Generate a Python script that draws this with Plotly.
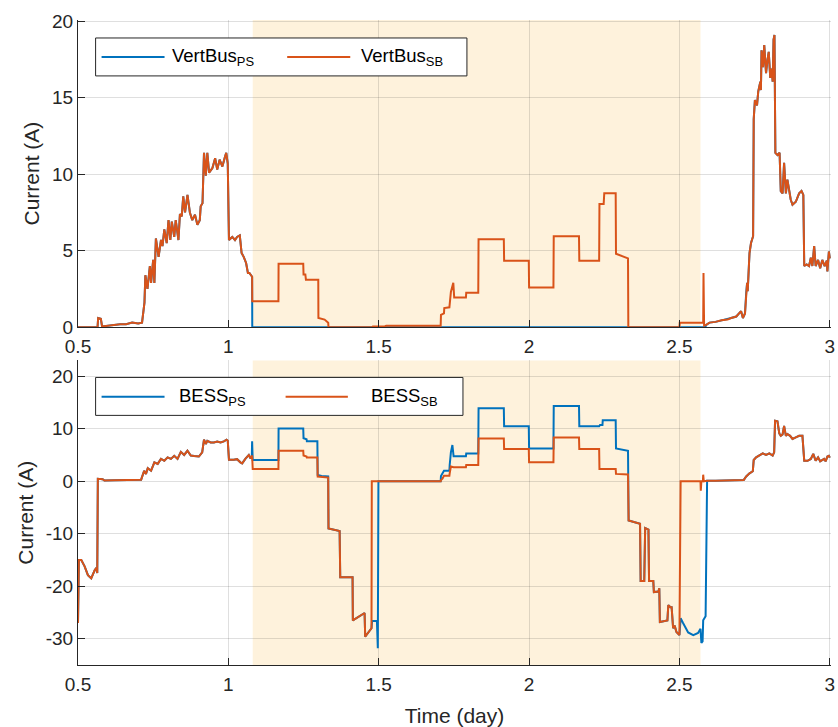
import plotly.graph_objects as go

# ---------------- data (time in days, current in A) ----------------
# Vertical bus current: common part before the outage window
vb_pre_t = [0.5, 0.565, 0.567, 0.576, 0.58, 0.60, 0.62, 0.64, 0.66, 0.68, 0.70, 0.713,
            0.721, 0.724, 0.731, 0.739, 0.743, 0.750, 0.754, 0.759, 0.768, 0.776, 0.781,
            0.787, 0.795, 0.801, 0.807, 0.812, 0.820, 0.825, 0.834, 0.839, 0.845, 0.850,
            0.856, 0.864, 0.872, 0.880, 0.889, 0.897, 0.905, 0.908, 0.914, 0.919, 0.925,
            0.930, 0.936, 0.947, 0.956, 0.963, 0.971, 0.980, 0.989, 0.993, 0.998, 1.002,
            1.013, 1.022, 1.029, 1.038, 1.044, 1.051, 1.059, 1.065, 1.070, 1.077, 1.079]
vb_pre_i = [0.0, 0.0, 0.6, 0.55, 0.05, 0.1, 0.15, 0.2, 0.2, 0.3, 0.25, 0.3,
            1.6, 3.4, 2.5, 4.0, 2.9, 4.4, 2.9, 5.8, 4.6, 5.7, 5.3,
            6.4, 5.5, 7.0, 5.7, 6.9, 5.9, 7.0, 5.7, 7.4, 7.25, 8.55,
            7.5, 8.65, 7.5, 7.0, 7.35, 6.7, 7.0, 7.9, 8.1, 11.4, 9.9,
            11.4, 10.1, 10.4, 11.05, 10.3, 10.95, 10.5, 11.15, 11.4, 10.7, 5.7,
            5.9, 5.7, 5.9, 6.0, 4.85, 4.6, 4.2, 3.55, 3.55, 3.35, 3.3]

# PS configuration: bus disconnected during the window
vb_ps_mid_t = [1.0795, 2.586]
vb_ps_mid_i = [0.0, 0.0]

# SB configuration during the window
vb_sb_mid_t = [1.0795, 1.1665, 1.167, 1.249, 1.25, 1.256, 1.258, 1.299, 1.2995, 1.32, 1.332,
               1.333, 1.48, 1.481, 1.52, 1.525, 1.706, 1.707, 1.717, 1.718, 1.735, 1.74,
               1.748, 1.751, 1.79, 1.791, 1.831, 1.832, 1.916, 1.917, 1.999, 2.0, 2.081,
               2.082, 2.166, 2.167, 2.233, 2.234, 2.248, 2.25, 2.288, 2.289, 2.329, 2.33,
               2.5, 2.501, 2.579, 2.58, 2.582, 2.586]
vb_sb_mid_i = [1.7, 1.7, 4.15, 4.15, 3.45, 3.45, 3.1, 3.1, 0.6, 0.5, 0.3,
               0.0, 0.0, 0.05, 0.05, 0.1, 0.1, 0.8, 0.9, 1.25, 1.3, 2.3,
               2.9, 1.95, 1.95, 2.25, 2.25, 5.75, 5.75, 4.35, 4.35, 2.6, 2.6,
               5.95, 5.95, 4.35, 4.35, 8.05, 8.05, 8.75, 8.75, 4.8, 4.5, 0.0,
               0.0, 0.3, 0.3, 3.55, 0.1, 0.12]

# Vertical bus current: common part after the window
vb_post_t = [2.589, 2.60, 2.62, 2.64, 2.66, 2.672, 2.689, 2.705, 2.711, 2.718, 2.722, 2.725,
             2.727, 2.733, 2.738, 2.745, 2.747, 2.751, 2.758, 2.762, 2.769, 2.771, 2.773,
             2.778, 2.782, 2.788, 2.793, 2.797, 2.802, 2.807, 2.81, 2.813, 2.816, 2.819,
             2.826, 2.833, 2.837, 2.843, 2.848, 2.854, 2.859, 2.865, 2.87, 2.876, 2.887,
             2.898, 2.906, 2.912, 2.915, 2.923, 2.931, 2.937, 2.942, 2.948, 2.953, 2.961,
             2.968, 2.975, 2.983, 2.99, 2.992, 2.997, 3.0]
vb_post_i = [0.15, 0.3, 0.35, 0.45, 0.5, 0.6, 0.7, 1.05, 0.6, 0.9, 2.25, 2.9,
             2.35, 4.85, 5.5, 5.95, 13.6, 14.85, 14.5, 15.4, 16.05, 15.5, 18.1,
             17.0, 18.45, 16.6, 17.5, 18.0, 16.3, 16.9, 16.05, 18.8, 19.1, 11.4,
             11.25, 11.4, 8.9, 8.75, 10.75, 8.75, 9.65, 8.75, 8.35, 8.0, 8.2,
             8.75, 8.9, 8.65, 4.0, 4.1, 4.0, 4.55, 4.0, 5.3, 4.0, 4.4,
             3.85, 4.4, 4.0, 4.35, 3.65, 4.95, 4.5]

# BESS current: common part before the window
bess_pre_t = [0.5, 0.503, 0.511, 0.522, 0.533, 0.544, 0.555, 0.561, 0.564, 0.566, 0.582, 0.588,
              0.62, 0.66, 0.70, 0.71, 0.72, 0.726, 0.732, 0.743, 0.754, 0.765, 0.776,
              0.787, 0.798, 0.809, 0.82, 0.831, 0.842, 0.853, 0.864, 0.875, 0.886, 0.902,
              0.913, 0.919, 0.925, 0.93, 0.941, 0.952, 0.963, 0.974, 0.985, 0.994, 0.998,
              1.002, 1.018, 1.029, 1.04, 1.046, 1.057, 1.068, 1.074, 1.078]
bess_pre_i = [-27.0, -15.0, -15.0, -16.2, -17.9, -18.5, -17.0, -16.5, -17.5, 0.45, 0.4, 0.15,
              0.2, 0.25, 0.25, 0.3, 2.0, 1.4, 2.5, 2.0, 3.6, 3.3, 4.25,
              3.9, 4.55, 4.25, 4.85, 4.25, 5.6, 5.0, 5.8, 4.9, 4.8, 4.7,
              5.5, 7.9, 7.1, 7.7, 7.4, 7.4, 7.55, 7.4, 7.6, 7.9, 7.7,
              4.1, 4.1, 4.2, 3.6, 3.4, 4.3, 5.0, 4.3, 4.9]

# PS configuration, first charge/discharge steps
bess_ps_a_t = [1.079, 1.081, 1.1665, 1.167, 1.249, 1.25, 1.26, 1.261, 1.296, 1.297, 1.31, 1.332]
bess_ps_a_i = [7.6, 4.05, 4.05, 10.05, 10.05, 8.2, 8.0, 7.6, 7.6, 1.2, 1.0, 0.9]
# SB configuration, first charge/discharge steps
bess_sb_a_t = [1.079, 1.081, 1.1665, 1.167, 1.249, 1.25, 1.26, 1.261, 1.296, 1.297, 1.332]
bess_sb_a_i = [4.9, 2.35, 2.35, 5.8, 5.8, 4.9, 4.7, 4.5, 4.5, 0.9, 0.7]

# common night discharge
bess_dis1_t = [1.333, 1.37, 1.372, 1.413, 1.414, 1.453, 1.455, 1.476]
bess_dis1_i = [-9.0, -9.5, -18.3, -18.3, -26.5, -25.1, -29.6, -28.0]

# PS configuration, second day inside the window
bess_ps_b_t = [1.478, 1.494, 1.497, 1.499, 1.706, 1.707, 1.717, 1.735, 1.736, 1.74, 1.745, 1.749,
               1.79, 1.791, 1.831, 1.832, 1.916, 1.917, 1.999, 2.0, 2.081, 2.082, 2.166,
               2.167, 2.233, 2.236, 2.244, 2.245, 2.288, 2.289, 2.329]
bess_ps_b_i = [-26.6, -26.6, -31.8, 0.0, 0.0, 1.0, 2.0, 2.0, 3.1, 5.5, 6.9, 4.75,
               4.75, 5.3, 5.3, 13.9, 13.9, 10.45, 10.45, 6.25, 6.25, 14.35, 14.35,
               10.45, 10.45, 10.7, 10.7, 11.6, 11.6, 6.25, 5.8]
# SB configuration, second day inside the window
bess_sb_b_t = [1.477, 1.706, 1.707, 1.712, 1.717, 1.735, 1.736, 1.74, 1.749, 1.79, 1.791, 1.831,
               1.832, 1.916, 1.917, 1.999, 2.0, 2.081, 2.082, 2.166, 2.167, 2.233, 2.234,
               2.288, 2.289, 2.329]
bess_sb_b_i = [0.0, 0.0, 0.2, 0.5, 1.05, 1.05, 1.5, 2.8, 2.65, 2.65, 3.1, 3.1,
               8.15, 8.15, 6.15, 6.15, 3.6, 3.6, 8.35, 8.35, 6.15, 6.15, 2.35,
               2.35, 1.4, 1.3]

# common second night discharge
bess_dis2_t = [2.331, 2.369, 2.371, 2.383, 2.386, 2.397, 2.399, 2.413, 2.415, 2.43, 2.433,
               2.435, 2.46, 2.463, 2.47, 2.474, 2.479, 2.484, 2.49, 2.50]
bess_dis2_i = [-7.47, -8.1, -19.0, -19.0, -8.9, -9.2, -19.0, -19.0, -21.1, -21.0, -20.4,
               -26.8, -26.5, -23.6, -24.0, -24.0, -28.0, -27.5, -28.7, -29.3]

bess_ps_c_t = [2.504, 2.512, 2.529, 2.546, 2.562, 2.57, 2.573, 2.577, 2.579, 2.587, 2.592]
bess_ps_c_i = [-26.1, -27.0, -28.8, -29.3, -28.9, -28.1, -30.8, -30.5, -26.5, -25.7, 0.0]
bess_sb_c_t = [2.504, 2.57, 2.571, 2.573, 2.578, 2.579, 2.581, 2.592]
bess_sb_c_i = [0.0, 0.0, -1.8, 0.0, 0.0, 1.25, 0.0, 0.1]

# BESS current: common part after the window
bess_post_t = [2.592, 2.62, 2.65, 2.672, 2.714, 2.722, 2.733, 2.744, 2.747, 2.755, 2.766, 2.777,
               2.788, 2.799, 2.81, 2.815, 2.818, 2.826, 2.832, 2.837, 2.843, 2.848, 2.854,
               2.859, 2.868, 2.876, 2.887, 2.898, 2.909, 2.915, 2.926, 2.937, 2.945, 2.953,
               2.961, 2.968, 2.981, 2.986, 2.992, 2.997, 3.0]
bess_post_i = [0.1, 0.1, 0.15, 0.25, 0.25, 0.9, 1.5, 1.9, 4.05, 4.55, 4.85, 5.3,
               5.0, 5.3, 4.9, 5.5, 11.5, 11.4, 9.1, 8.65, 8.9, 10.55, 8.65,
               9.0, 8.65, 8.05, 8.35, 8.65, 8.65, 3.9, 3.9, 4.25, 5.2, 3.9,
               4.55, 3.8, 4.25, 3.8, 4.7, 4.85, 4.5]

# highlighted window (days)
window = [1.081, 2.57]

# axis ticks
x_ticks = [0.5, 1, 1.5, 2, 2.5, 3]
x_ticktext = ["0.5", "1", "1.5", "2", "2.5", "3"]
y1_ticks = [0, 5, 10, 15, 20]
y1_ticktext = ["0", "5", "10", "15", "20"]
y2_ticks = [-30, -20, -10, 0, 10, 20]
y2_ticktext = ["-30", "-20", "-10", "0", "10", "20"]

# ---------------- assemble series ----------------
vb_ps_t = vb_pre_t + vb_ps_mid_t + vb_post_t
vb_ps_i = vb_pre_i + vb_ps_mid_i + vb_post_i
vb_sb_t = vb_pre_t + vb_sb_mid_t + vb_post_t
vb_sb_i = vb_pre_i + vb_sb_mid_i + vb_post_i

bess_ps_t = bess_pre_t + bess_ps_a_t + bess_dis1_t + bess_ps_b_t + bess_dis2_t + bess_ps_c_t + bess_post_t
bess_ps_i = bess_pre_i + bess_ps_a_i + bess_dis1_i + bess_ps_b_i + bess_dis2_i + bess_ps_c_i + bess_post_i
bess_sb_t = bess_pre_t + bess_sb_a_t + bess_dis1_t + bess_sb_b_t + bess_dis2_t + bess_sb_c_t + bess_post_t
bess_sb_i = bess_pre_i + bess_sb_a_i + bess_dis1_i + bess_sb_b_i + bess_dis2_i + bess_sb_c_i + bess_post_i

BLUE = "#0072BD"
ORANGE = "#D95319"
AX = "#262626"
GRID = "rgba(38,38,38,0.15)"
FONT = "Liberation Sans, Arial, Helvetica, sans-serif"

W, H = 838, 727
ML, MR, MT, MB = 78, 3, 20, 61
PW, PH = W - ML - MR, H - MT - MB


def px(xp):
    return (xp - ML) / PW


def py(yp):
    return (H - MB - yp) / PH


fig = go.Figure()
line_kw = dict(mode="lines", showlegend=False, hoverinfo="skip")
fig.add_trace(go.Scatter(x=vb_ps_t, y=vb_ps_i, line=dict(color=BLUE, width=2), xaxis="x", yaxis="y", **line_kw))
fig.add_trace(go.Scatter(x=vb_sb_t, y=vb_sb_i, line=dict(color=ORANGE, width=2), xaxis="x", yaxis="y", **line_kw))
fig.add_trace(go.Scatter(x=bess_ps_t, y=bess_ps_i, line=dict(color=BLUE, width=2), xaxis="x2", yaxis="y2", **line_kw))
fig.add_trace(go.Scatter(x=bess_sb_t, y=bess_sb_i, line=dict(color=ORANGE, width=2), xaxis="x2", yaxis="y2", **line_kw))

axis_common = dict(
    showline=True, linecolor=AX, linewidth=1, mirror=False,
    ticks="inside", ticklen=7, tickcolor=AX, tickwidth=1,
    showgrid=True, gridcolor=GRID, gridwidth=1, zeroline=False,
    tickfont=dict(family=FONT, size=19, color=AX),
    ticklabeloverflow="allow",
)
title_font = dict(family=FONT, size=21, color=AX)
# a pixel of headroom keeps the end gridlines and ticks
x_range = [0.5, 3.004]

fig.update_layout(
    width=W, height=H,
    margin=dict(l=ML, r=MR, t=MT, b=MB),
    paper_bgcolor="white", plot_bgcolor="white",
    font=dict(family=FONT, color=AX),
    xaxis=dict(domain=[0, 1], anchor="y", range=x_range, tickvals=x_ticks, ticktext=x_ticktext,
               ticklabelstandoff=2, **axis_common),
    yaxis=dict(domain=[py(327.7), 1.0], anchor="x", range=[0, 20.08], tickvals=y1_ticks, ticktext=y1_ticktext,
               title=dict(text="Current (A)", font=title_font, standoff=6), **axis_common),
    xaxis2=dict(domain=[0, 1], anchor="y2", range=x_range, tickvals=x_ticks, ticktext=x_ticktext,
                ticklabelstandoff=2, title=dict(text="Time (day)", font=title_font), **axis_common),
    yaxis2=dict(domain=[0, py(361)], anchor="x2", range=[-35, 23], tickvals=y2_ticks, ticktext=y2_ticktext,
                title=dict(text="Current (A)", font=title_font, standoff=6), **axis_common),
)

# shaded window on both panels
for xr, yr in (("x", "y domain"), ("x2", "y2 domain")):
    fig.add_shape(type="rect", xref=xr, yref=yr, x0=window[0], x1=window[1], y0=0, y1=1,
                  fillcolor="#FEF2DC", line=dict(width=0), layer="below")

# legends drawn as boxes with line samples and labels
legends = [
    dict(box=(95.7, 469, 38, 76), yc=57,
         items=[(101.7, 165, 171.7, BLUE, "VertBus<sub>PS</sub>"),
                (288.3, 351.7, 361.7, ORANGE, "VertBus<sub>SB</sub>")]),
    dict(box=(95.7, 465, 378, 416), yc=397.3,
         items=[(101.7, 165, 178.3, BLUE, "BESS<sub>PS</sub>"),
                (286.7, 349.3, 371.7, ORANGE, "BESS<sub>SB</sub>")]),
]
for lg in legends:
    x0, x1, y0, y1 = lg["box"]
    fig.add_shape(type="rect", xref="paper", yref="paper", x0=px(x0), x1=px(x1), y0=py(y1), y1=py(y0),
                  fillcolor="white", line=dict(color=AX, width=1), layer="above")
    for lx0, lx1, tx, col, label in lg["items"]:
        fig.add_shape(type="line", xref="paper", yref="paper", x0=px(lx0), x1=px(lx1),
                      y0=py(lg["yc"]), y1=py(lg["yc"]), line=dict(color=col, width=2), layer="above")
        fig.add_annotation(xref="paper", yref="paper", x=px(tx), y=py(lg["yc"]), text=label,
                           showarrow=False, xanchor="left", yanchor="middle",
                           font=dict(family=FONT, size=18.5, color="#000000"), borderpad=0)

fig.write_html("out.html")
